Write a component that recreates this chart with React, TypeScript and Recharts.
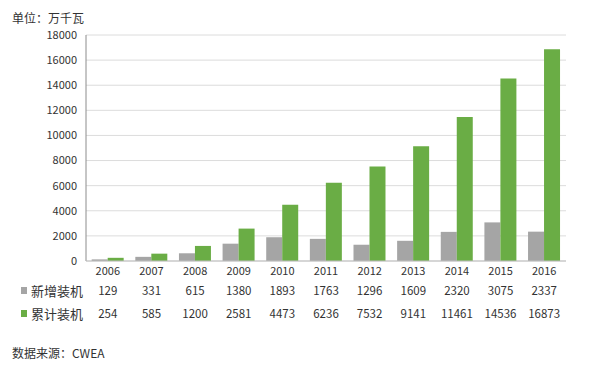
import { BarChart, Bar, XAxis, YAxis, CartesianGrid } from "recharts"

const years = ["2006", "2007", "2008", "2009", "2010", "2011", "2012", "2013", "2014", "2015", "2016"]
const newInstalled = [129, 331, 615, 1380, 1893, 1763, 1296, 1609, 2320, 3075, 2337]
const totalInstalled = [254, 585, 1200, 2581, 4473, 6236, 7532, 9141, 11461, 14536, 16873]
const yTicks = [0, 2000, 4000, 6000, 8000, 10000, 12000, 14000, 16000, 18000]

const GRAY = "#a5a5a5"
const GREEN = "#6aad45"
const FONT = "'Noto Sans CJK SC', 'Noto Sans', sans-serif"

const data = years.map((year, i) => ({
  year,
  added: newInstalled[i],
  total: totalInstalled[i],
}))

const cellStyle = { fontFamily: FONT, fill: "#333" }

const TableTick = ({ x, y, payload }: { x?: number; y?: number; payload?: { value: string; index: number } }) => {
  if (x == null || y == null || !payload) return null
  const i = payload.index
  return (
    <g textAnchor="middle">
      <text x={x} y={y + 7} fontSize={11} style={cellStyle}>{years[i]}</text>
      <text x={x} y={y + 27} fontSize={11.5} style={cellStyle}>{newInstalled[i]}</text>
      <text x={x} y={y + 50} fontSize={11.5} style={cellStyle}>{totalInstalled[i]}</text>
    </g>
  )
}

export default function App() {
  return (
    <div style={{ position: "fixed", left: 0, top: 0, width: 600, height: 370, background: "#fff", fontFamily: FONT }}>
      <div style={{ position: "absolute", left: 12, top: 9, fontSize: 12, color: "#333" }}>单位：万千瓦</div>
      <BarChart
        width={600}
        height={370}
        data={data}
        margin={{ top: 35, right: 34, bottom: 29, left: 0 }}
        barCategoryGap="13%"
        barGap={0}
      >
        <CartesianGrid vertical={false} stroke="#dcdcdc" />
        <YAxis
          width={86}
          domain={[0, 18000]}
          ticks={yTicks}
          tickLine={false}
          tickSize={0}
          tickMargin={9}
          axisLine={{ stroke: "#8c8c8c" }}
          tick={{ fontSize: 11, fill: "#333", fontFamily: FONT }}
          interval={0}
        />
        <XAxis
          dataKey="year"
          height={80}
          tickLine={false}
          tickSize={0}
          tickMargin={7}
          axisLine={{ stroke: "#bfbfbf" }}
          interval={0}
          tick={<TableTick />}
        />
        <Bar dataKey="added" fill={GRAY} isAnimationActive={false} />
        <Bar dataKey="total" fill={GREEN} isAnimationActive={false} />
      </BarChart>
      <div style={{ position: "absolute", left: 21, top: 281, fontSize: 13, color: "#333", display: "flex", alignItems: "center" }}>
        <span style={{ width: 6, height: 7, background: GRAY, marginRight: 4 }} />新增装机
      </div>
      <div style={{ position: "absolute", left: 21, top: 304, fontSize: 13, color: "#333", display: "flex", alignItems: "center" }}>
        <span style={{ width: 6, height: 7, background: GREEN, marginRight: 4 }} />累计装机
      </div>
      <div style={{ position: "absolute", left: 12, top: 344, fontSize: 12, color: "#333" }}>数据来源：CWEA</div>
    </div>
  )
}
